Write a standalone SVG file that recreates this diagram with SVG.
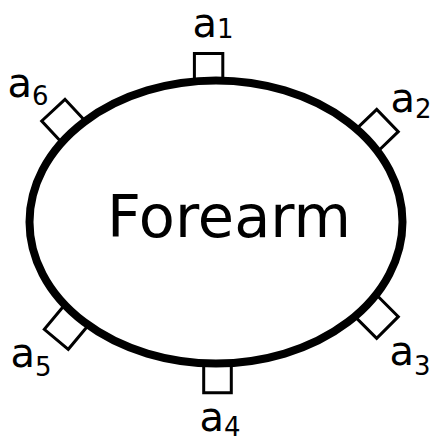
<svg xmlns="http://www.w3.org/2000/svg" width="431" height="441" viewBox="0 0 431 441">
<style>
.br{fill:none;stroke:#000;stroke-width:3;stroke-linejoin:miter}
.lbl{font-family:"DejaVu Sans",sans-serif;font-size:40px;fill:#000}
.sub{font-size:26px}
.title{font-family:"DejaVu Sans",sans-serif;font-size:59px;fill:#000}
</style>
<rect width="431" height="441" fill="#fff"/>
<g id="connectors">
<path class="br" transform="translate(208.6,53.5)" d="M-14.2,30V0H14.2V30"/>
<path class="br" transform="translate(387.5,120.5) rotate(46)" d="M-15.5,30V0H15.5V30"/>
<path class="br" transform="translate(387.5,327.5) rotate(135)" d="M-15.3,30V0H15.3V30"/>
<path class="br" transform="translate(217.5,392.8) rotate(180)" d="M-13.8,30V0H13.8V30"/>
<path class="br" transform="translate(56.3,339.3) rotate(-140.2)" d="M-15.6,30V0H15.6V30"/>
<path class="br" transform="translate(53.35,110.15) rotate(-43)" d="M-15.9,30V0H15.9V30"/>
</g>
<g id="forearm">
<ellipse cx="216" cy="222" rx="186.5" ry="141.5" fill="#fff" stroke="#000" stroke-width="8"/>
<text class="title" x="229" y="237" text-anchor="middle">Forearm</text>
</g>
<g id="a1"><text class="lbl" x="192.5" y="37">a<tspan class="sub" y="38">1</tspan></text></g>
<g id="a2"><text class="lbl" x="390.6" y="112">a<tspan class="sub" y="118">2</tspan></text></g>
<g id="a3"><text class="lbl" x="389.6" y="365">a<tspan class="sub" y="375">3</tspan></text></g>
<g id="a4"><text class="lbl" x="199.6" y="431">a<tspan class="sub" y="436">4</tspan></text></g>
<g id="a5"><text class="lbl" x="10.6" y="367">a<tspan class="sub" y="376">5</tspan></text></g>
<g id="a6"><text class="lbl" x="7.6" y="97">a<tspan class="sub" y="105">6</tspan></text></g>
</svg>
